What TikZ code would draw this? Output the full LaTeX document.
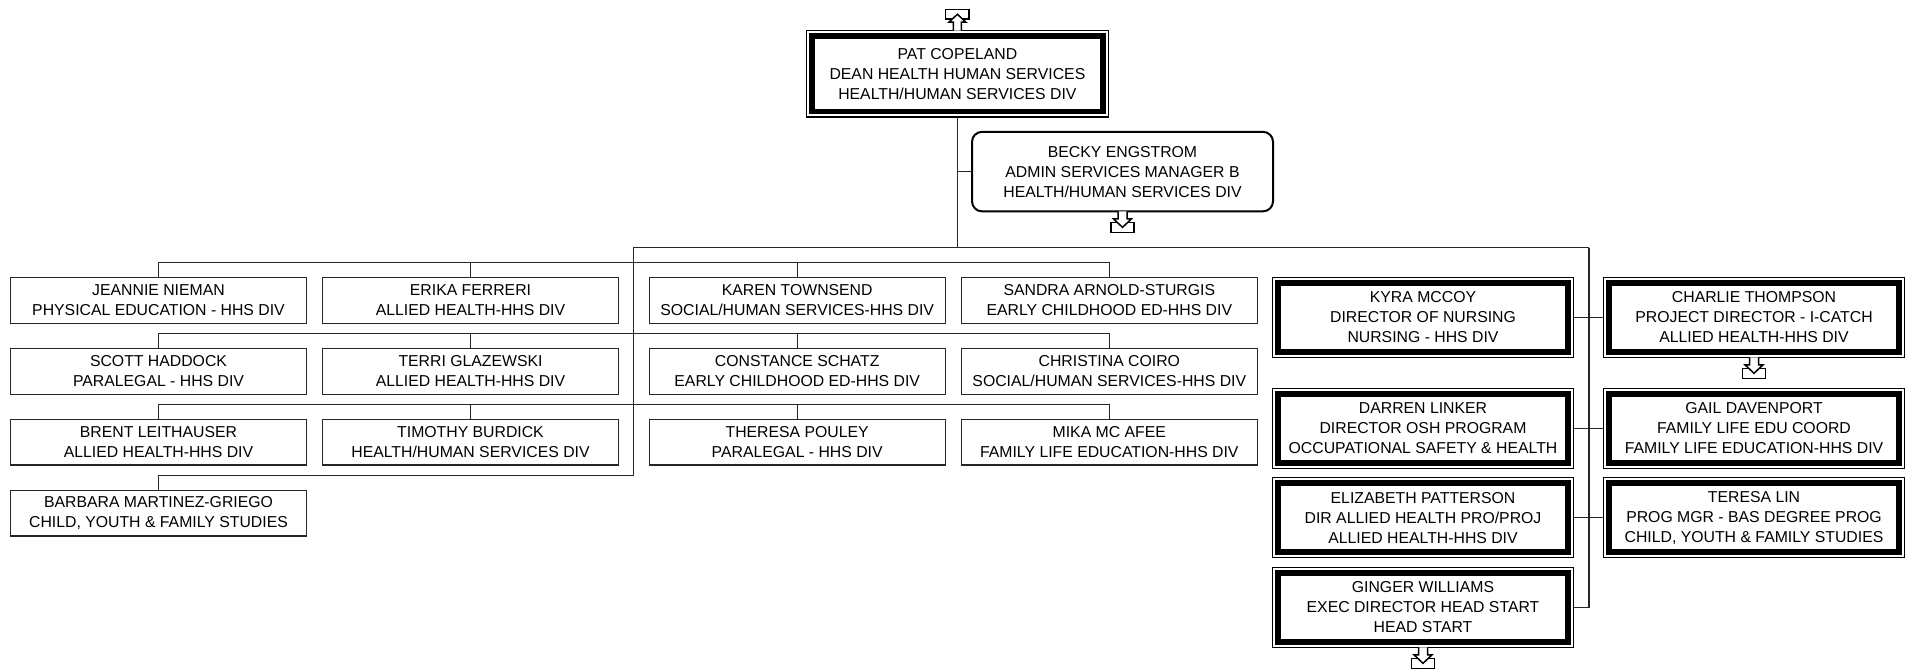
\documentclass[tikz,border=0pt]{standalone}
\usepackage{fontspec}
\setmainfont{Liberation Sans}
\tikzset{
  conn/.style={draw=black!85, line width=1.3pt},
  boxfont/.style={font=\fontsize{15.8}{20}\selectfont},
  sbox/.style={draw=black!85, line width=1.4pt, fill=white, minimum width=296pt, minimum height=45.6pt,
    inner sep=0pt, outer sep=0pt, align=center, boxfont},
  dbox/.style={draw=black, line width=1.1pt, fill=white, minimum width=301pt, minimum height=80pt,
    inner sep=0pt, outer sep=0pt, align=center, boxfont,
    path picture={\draw[line width=5.5pt, black]
      ([shift={(5.5pt,-5.5pt)}]path picture bounding box.north west) rectangle
      ([shift={(-5.5pt,5.5pt)}]path picture bounding box.south east);}},
  rbox/.style={draw=black, line width=2pt, rounded corners=10pt, fill=white, minimum width=301pt,
    minimum height=79.5pt, inner sep=0pt, outer sep=0pt, align=center, boxfont},
  arrline/.style={draw=black, line width=1.5pt, fill=white},
  moredown/.pic={
    \path[arrline] (-11.7pt,-11pt) rectangle (11.7pt,-21pt);
    \path[arrline] (-4.5pt,0pt) -- (-4.5pt,-7.5pt) -- (-9pt,-7.5pt) -- (0pt,-16pt)
      -- (9pt,-7.5pt) -- (4.5pt,-7.5pt) -- (4.5pt,0pt);
  },
  moreup/.pic={
    \path[arrline] (-11.7pt,11.5pt) rectangle (11.7pt,21pt);
    \path[arrline] (-4pt,0pt) -- (-4pt,8.5pt) -- (-8.5pt,8.5pt) -- (0pt,16.5pt)
      -- (8.5pt,8.5pt) -- (4pt,8.5pt) -- (4pt,0pt);
  }
}
\begin{document}
\begin{tikzpicture}[x=1pt, y=-1pt]
\useasboundingbox (0,0) rectangle (1909,671);
\fill[white] (0,0) rectangle (1909,671);

% top
\node[dbox, minimum width=301.8pt, minimum height=86.3pt] (pat) at (957.4,73.9)
  {PAT COPELAND\\DEAN HEALTH HUMAN SERVICES\\HEALTH/HUMAN SERVICES DIV};
\node[rbox] (becky) at (1122.5,171.6)
  {BECKY ENGSTROM\\ADMIN SERVICES MANAGER B\\HEALTH/HUMAN SERVICES DIV};

% left grid
\node[sbox] (jeannie) at (158.5,300.5) {JEANNIE NIEMAN\\PHYSICAL EDUCATION - HHS DIV};
\node[sbox] (erika) at (470.5,300.5) {ERIKA FERRERI\\ALLIED HEALTH-HHS DIV};
\node[sbox] (karen) at (797.2,300.5) {KAREN TOWNSEND\\SOCIAL/HUMAN SERVICES-HHS DIV};
\node[sbox] (sandra) at (1109.3,300.5) {SANDRA ARNOLD-STURGIS\\EARLY CHILDHOOD ED-HHS DIV};

\node[sbox] (scott) at (158.5,371.5) {SCOTT HADDOCK\\PARALEGAL - HHS DIV};
\node[sbox] (terri) at (470.5,371.5) {TERRI GLAZEWSKI\\ALLIED HEALTH-HHS DIV};
\node[sbox] (constance) at (797.2,371.5) {CONSTANCE SCHATZ\\EARLY CHILDHOOD ED-HHS DIV};
\node[sbox] (christina) at (1109.3,371.5) {CHRISTINA COIRO\\SOCIAL/HUMAN SERVICES-HHS DIV};

\node[sbox] (brent) at (158.5,442.2) {BRENT LEITHAUSER\\ALLIED HEALTH-HHS DIV};
\node[sbox] (timothy) at (470.5,442.2) {TIMOTHY BURDICK\\HEALTH/HUMAN SERVICES DIV};
\node[sbox] (theresa) at (797.2,442.2) {THERESA POULEY\\PARALEGAL - HHS DIV};
\node[sbox] (mika) at (1109.3,442.2) {MIKA MC AFEE\\FAMILY LIFE EDUCATION-HHS DIV};

\node[sbox] (barbara) at (158.5,513) {BARBARA MARTINEZ-GRIEGO\\CHILD, YOUTH \& FAMILY STUDIES};

% right double boxes
\node[dbox] (kyra) at (1423,317.3) {KYRA MCCOY\\DIRECTOR OF NURSING\\NURSING - HHS DIV};
\node[dbox] (charlie) at (1754,317.3) {CHARLIE THOMPSON\\PROJECT DIRECTOR - I-CATCH\\ALLIED HEALTH-HHS DIV};
\node[dbox] (darren) at (1423,428.3) {DARREN LINKER\\DIRECTOR OSH PROGRAM\\OCCUPATIONAL SAFETY \& HEALTH};
\node[dbox] (gail) at (1754,428.3) {GAIL DAVENPORT\\FAMILY LIFE EDU COORD\\FAMILY LIFE EDUCATION-HHS DIV};
\node[dbox] (elizabeth) at (1423,517.6) {ELIZABETH PATTERSON\\DIR ALLIED HEALTH PRO/PROJ\\ALLIED HEALTH-HHS DIV};
\node[dbox] (teresa) at (1754,517.6) {TERESA LIN\\PROG MGR - BAS DEGREE PROG\\CHILD, YOUTH \& FAMILY STUDIES};
\node[dbox] (ginger) at (1423,607.3) {GINGER WILLIAMS\\EXEC DIRECTOR HEAD START\\HEAD START};

% bus coordinates
\coordinate (busL) at (633.3,247.7);
\coordinate (busR) at (1589,247.7);

% connectors
\draw[conn] (pat.south) -- (pat.south |- busL);
\draw[conn] (becky.west) -- (becky.west -| pat.south);
\draw[conn] (busR) -- (busL) |- ([yshift=15pt]barbara.north) -- (barbara.north);

\draw[conn] (jeannie.north) -- ++(0,15pt) -| (sandra.north);
\draw[conn] (erika.north) -- ++(0,15pt);
\draw[conn] (karen.north) -- ++(0,15pt);
\draw[conn] (scott.north) -- ++(0,15pt) -| (christina.north);
\draw[conn] (terri.north) -- ++(0,15pt);
\draw[conn] (constance.north) -- ++(0,15pt);
\draw[conn] (brent.north) -- ++(0,15pt) -| (mika.north);
\draw[conn] (timothy.north) -- ++(0,15pt);
\draw[conn] (theresa.north) -- ++(0,15pt);

\draw[conn] (busR) |- (ginger.east);
\draw[conn] (kyra.east) -- (charlie.west);
\draw[conn] (darren.east) -- (gail.west);
\draw[conn] (elizabeth.east) -- (teresa.west);

% more indicators
\pic at (pat.north) {moreup};
\pic at (becky.south) {moredown};
\pic at (charlie.south) {moredown};
\pic at (ginger.south) {moredown};
\end{tikzpicture}
\end{document}
